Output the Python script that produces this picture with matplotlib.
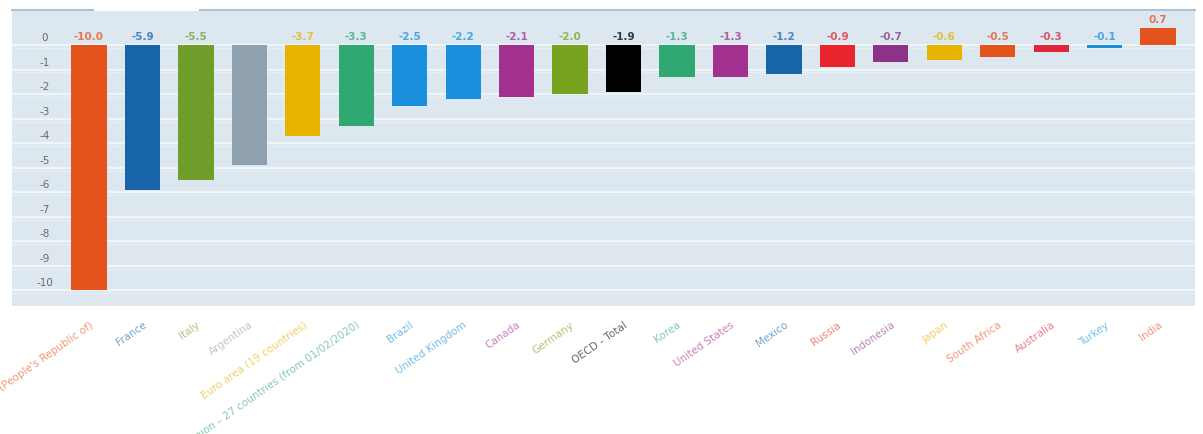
import matplotlib
matplotlib.use("Agg")
import matplotlib.pyplot as plt
import matplotlib.transforms as mtransforms
from matplotlib.lines import Line2D

countries = [
    "China (People's Republic of)", "France", "Italy", "Argentina",
    "Euro area (19 countries)",
    "European Union \u2013 27 countries (from 01/02/2020)",
    "Brazil", "United Kingdom", "Canada", "Germany", "OECD - Total",
    "Korea", "United States", "Mexico", "Russia", "Indonesia", "Japan",
    "South Africa", "Australia", "Turkey", "India",
]
values = [-10.0, -5.9, -5.5, -4.9, -3.7, -3.3, -2.5, -2.2, -2.1, -2.0, -1.9,
          -1.3, -1.3, -1.2, -0.9, -0.7, -0.6, -0.5, -0.3, -0.1, 0.7]
show_value = [True, True, True, False] + [True] * 17
bar_colors = [
    "#e4531b", "#1764aa", "#6f9e2a", "#8fa1ae", "#e5b300", "#2fa872",
    "#1a8fdd", "#1a8fdd", "#a1308e", "#77a31e", "#000000", "#2fa872",
    "#a1308e", "#1764aa", "#e8252c", "#8d3189", "#e5b300", "#e4531b",
    "#e0263a", "#1a8fdd", "#e4531b",
]
y_ticks = list(range(0, -11, -1))

W, H = 1203, 434
fig = plt.figure(figsize=(W / 100, H / 100), dpi=100)
fig.patch.set_facecolor("white")

left, right, top, bottom = 12, 1195, 11, 306
ax = fig.add_axes([left / W, 1 - bottom / H, (right - left) / W, (bottom - top) / H])
ax.set_facecolor("#dce7ef")
for s in ax.spines.values():
    s.set_visible(False)

x = list(range(len(countries)))
ax.set_xlim(-1.44, 20.69)
ax.set_ylim(-10.65, 1.39)

# horizontal grid bands
for t in y_ticks:
    ax.axhline(t, color="#eef4f8", lw=1.6, zorder=0)
    ax.axhline(t - 0.12, color="#e6eef4", lw=1.0, zorder=0)

ax.bar(x, values, width=0.66, color=bar_colors, zorder=2)

for xi, v, c, show in zip(x, values, bar_colors, show_value):
    if not show:
        continue
    y = max(v, 0) + 0.12
    ax.text(xi, y, f"{v:.1f}", ha="center", va="bottom", fontsize=7.5,
            fontweight="bold", color=c, alpha=0.75, zorder=3)

# y tick labels drawn inside the plot area
ytr = mtransforms.blended_transform_factory(ax.transAxes, ax.transData)
for t in y_ticks:
    ax.text(0.028, t + 0.28, f"{t}", transform=ytr, ha="center", va="center",
            fontsize=7.5, color="#555555", alpha=0.85)
ax.set_yticks([])

ax.set_xticks(x)
ax.set_xticklabels(countries, rotation=35, ha="right", rotation_mode="anchor",
                   fontsize=7.5)
for lbl, c in zip(ax.get_xticklabels(), bar_colors):
    lbl.set_color(c)
    lbl.set_alpha(0.6)
ax.tick_params(axis="x", length=0, pad=10)

# thin frame line along the top with a tab gap
ly = 1 - 10 / H
fig.add_artist(Line2D([left / W, 93 / W], [ly, ly], color="#a9c3d8", lw=1.5))
fig.add_artist(Line2D([200 / W, right / W], [ly, ly], color="#a9c3d8", lw=1.5))

fig.savefig("out.png", dpi=100, facecolor="white")
